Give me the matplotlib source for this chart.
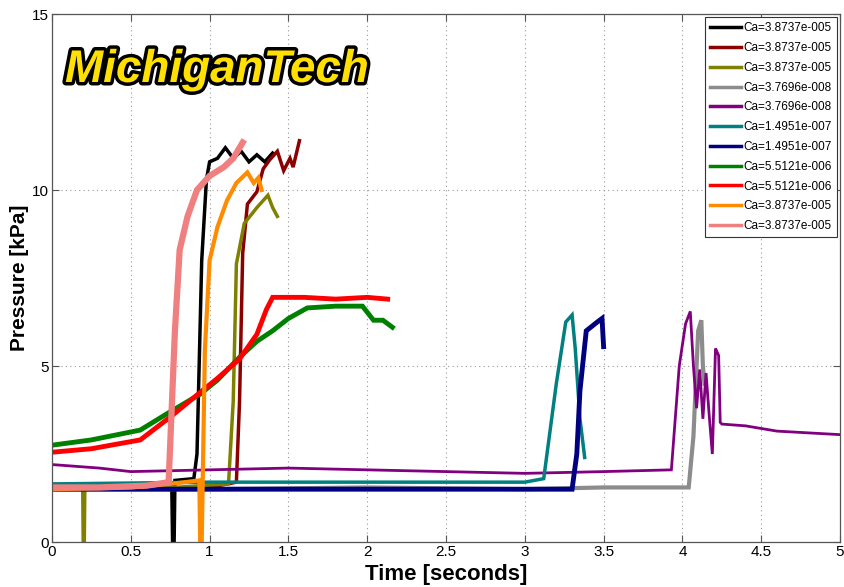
import matplotlib
matplotlib.use("Agg")
import matplotlib.pyplot as plt
import matplotlib.patheffects as pe

plt.rcParams['font.family'] = ['Liberation Sans', 'DejaVu Sans']

# ---- data (time [s], pressure [kPa]) ----
labels = ["Ca=3.8737e-005", "Ca=3.8737e-005", "Ca=3.8737e-005", "Ca=3.7696e-008",
          "Ca=3.7696e-008", "Ca=1.4951e-007", "Ca=1.4951e-007", "Ca=5.5121e-006",
          "Ca=5.5121e-006", "Ca=3.8737e-005", "Ca=3.8737e-005"]
colors = ["#000000", "#8B0000", "#808000", "#8C8C8C", "#800080", "#008080",
          "#000080", "#008000", "#FF0000", "#FF8C00", "#F08080"]

black_t = [0.0, 0.5, 0.76, 0.765, 0.775, 0.78, 0.9, 0.92, 0.95, 0.98, 1.0, 1.05, 1.1, 1.15, 1.2, 1.25, 1.3, 1.35, 1.4]
black_p = [1.55, 1.55, 1.6, 0.0, 0.0, 1.75, 1.8, 2.5, 8.0, 10.3, 10.8, 10.9, 11.2, 10.9, 11.1, 10.8, 11.0, 10.8, 11.05]

maroon_t = [0.0, 0.6, 1.0, 1.17, 1.19, 1.21, 1.24, 1.30, 1.34, 1.38, 1.43, 1.47, 1.51, 1.53, 1.57]
maroon_p = [1.5, 1.5, 1.55, 1.7, 4.0, 8.2, 9.6, 9.95, 10.6, 10.85, 11.1, 10.55, 10.9, 10.65, 11.4]

olive_t = [0.0, 0.195, 0.198, 0.205, 0.208, 0.6, 1.12, 1.15, 1.17, 1.22, 1.30, 1.37, 1.40, 1.43]
olive_p = [1.5, 1.5, 0.0, 0.0, 1.5, 1.5, 1.65, 4.0, 7.9, 9.05, 9.5, 9.85, 9.5, 9.25]

gray_t = [0.0, 1.0, 2.0, 3.0, 3.5, 4.04, 4.07, 4.10, 4.12, 4.13, 4.14]
gray_p = [1.5, 1.5, 1.55, 1.5, 1.55, 1.55, 3.0, 6.0, 6.3, 5.0, 4.5]

purple_t = [0.0, 0.3, 0.5, 1.0, 1.5, 2.0, 2.5, 3.0, 3.5, 3.93, 3.98, 4.02, 4.05, 4.07, 4.09, 4.11,
            4.13, 4.15, 4.17, 4.19, 4.21, 4.23, 4.24, 4.25, 4.4, 4.6, 4.8, 5.0]
purple_p = [2.2, 2.1, 2.0, 2.05, 2.1, 2.05, 2.0, 1.95, 2.0, 2.05, 5.0, 6.2, 6.55, 5.0, 3.8, 4.9,
            3.5, 4.8, 3.6, 2.5, 5.5, 5.3, 3.4, 3.35, 3.3, 3.15, 3.1, 3.05]

teal_t = [0.0, 1.0, 2.0, 3.0, 3.12, 3.20, 3.26, 3.30, 3.32, 3.35, 3.38]
teal_p = [1.65, 1.7, 1.7, 1.7, 1.8, 4.5, 6.25, 6.45, 5.5, 3.5, 2.4]

navy_t = [0.0, 1.0, 2.0, 3.0, 3.30, 3.33, 3.35, 3.39, 3.46, 3.49, 3.50]
navy_p = [1.5, 1.5, 1.5, 1.5, 1.5, 2.5, 4.3, 6.0, 6.25, 6.35, 5.55]

green_t = [0.0, 0.25, 0.56, 0.75, 0.94, 1.05, 1.19, 1.30, 1.40, 1.50, 1.62, 1.80, 1.97, 2.04, 2.10, 2.16]
green_p = [2.75, 2.9, 3.18, 3.7, 4.2, 4.6, 5.25, 5.7, 6.0, 6.35, 6.65, 6.7, 6.7, 6.3, 6.3, 6.1]

red_t = [0.0, 0.25, 0.56, 0.75, 0.94, 1.05, 1.19, 1.30, 1.36, 1.40, 1.6, 1.8, 2.0, 2.13]
red_p = [2.55, 2.65, 2.9, 3.55, 4.25, 4.65, 5.2, 5.9, 6.6, 6.95, 6.95, 6.9, 6.95, 6.9]

orange_t = [0.0, 0.5, 0.75, 0.935, 0.94, 0.95, 0.97, 1.0, 1.05, 1.11, 1.17, 1.24, 1.28, 1.31, 1.33]
orange_p = [1.5, 1.55, 1.65, 1.75, 0.0, 0.0, 5.45, 8.0, 8.95, 9.7, 10.2, 10.5, 10.2, 10.35, 10.0]

pink_t = [0.0, 0.3, 0.6, 0.74, 0.78, 0.81, 0.86, 0.92, 1.0, 1.09, 1.15, 1.21]
pink_p = [1.55, 1.55, 1.6, 1.7, 6.0, 8.3, 9.25, 10.0, 10.4, 10.65, 10.9, 11.35]

series_t = [black_t, maroon_t, olive_t, gray_t, purple_t, teal_t, navy_t, green_t, red_t, orange_t, pink_t]
series_p = [black_p, maroon_p, olive_p, gray_p, purple_p, teal_p, navy_p, green_p, red_p, orange_p, pink_p]
widths = [2.5, 2.5, 2.5, 3.0, 2.0, 2.5, 3.5, 3.5, 3.5, 3.0, 4.5]

x_ticks = [0, 0.5, 1, 1.5, 2, 2.5, 3, 3.5, 4, 4.5, 5]
x_ticklabels = ["0", "0.5", "1", "1.5", "2", "2.5", "3", "3.5", "4", "4.5", "5"]
y_ticks = [0, 5, 10, 15]

fig = plt.figure(figsize=(8.44, 5.87), dpi=100)
ax = fig.add_axes([52/844, 1-542/587, 788/844, 528/587])

for t, p, c, lab, w in zip(series_t, series_p, colors, labels, widths):
    ax.plot(t, p, color=c, lw=w, label=lab, solid_joinstyle='miter')

ax.set_xlim(0, 5)
ax.set_ylim(0, 15)
ax.set_xticks(x_ticks)
ax.set_xticklabels(x_ticklabels)
ax.set_yticks(y_ticks)
ax.tick_params(direction='in', top=True, right=True, labelsize=11, length=5, color='#555555', pad=2)
for s in ax.spines.values():
    s.set_color('#555555')
    s.set_linewidth(0.9)
ax.grid(True, linestyle=(0, (1, 3)), color='#999999', linewidth=0.8)

ax.set_xlabel("Time [seconds]", fontsize=16, fontweight='bold', labelpad=4)
ax.set_ylabel("Pressure [kPa]", fontsize=15, fontweight='bold', labelpad=2)

leg = ax.legend(loc='upper right', fontsize=8.5, labelspacing=0.66, handlelength=2.6,
                handletextpad=0.2, borderaxespad=0.25, borderpad=0.45, fancybox=False,
                framealpha=1, edgecolor='#333333')
leg.get_frame().set_linewidth(0.8)
for line in leg.get_lines():
    line.set_linewidth(2.5)

fig.text(217/844, 1-70/587, "MichiganTech", fontsize=33, fontweight='bold', style='italic',
         family=['Liberation Sans', 'DejaVu Sans'], color='#FFE000', ha='center', va='center',
         path_effects=[pe.Stroke(linewidth=5, foreground='black'), pe.Normal()])

fig.savefig("out.png", dpi=100)
